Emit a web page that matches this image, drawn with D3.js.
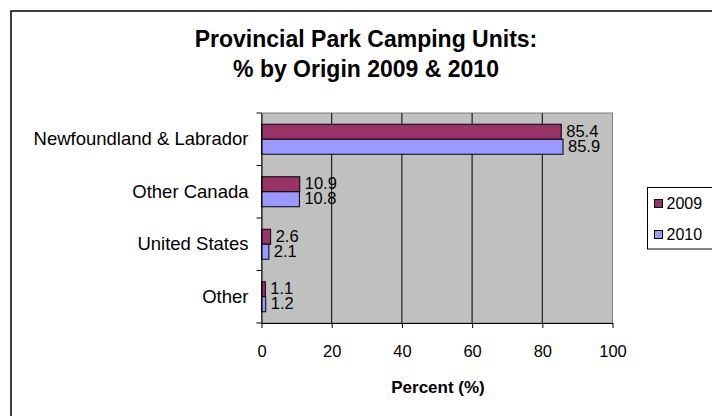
<!DOCTYPE html>
<html><head><meta charset="utf-8">
<script src="https://cdn.jsdelivr.net/npm/d3@7"></script>
<style>body{margin:0;background:#fff}svg{display:block;font-family:"Liberation Sans",Arial,sans-serif}</style>
</head><body>
<svg id="c" width="712" height="416"></svg>
<script>
const categories = ["Newfoundland & Labrador","Other Canada","United States","Other"];
const seriesNames = ["2009","2010"];
const values2009 = [85.4,10.9,2.6,1.1];
const values2010 = [85.9,10.8,2.1,1.2];
const xTicks = [0,20,40,60,80,100];
const colors = ["#993366","#9999FF"];

const svg = d3.select("#c");
const L=261.5, R=612.5, T=113, B=323;
const x = d3.scaleLinear().domain([0,100]).range([L,R]);
const y = d3.scaleBand().domain(categories).range([T,B]);
const inner = d3.scaleBand().domain(seriesNames).range([0,y.bandwidth()]).paddingOuter(0.75).paddingInner(0);

// outer border
svg.append("rect").attr("x",11).attr("y",11).attr("width",800).attr("height",500)
  .attr("fill","#fff").attr("stroke","#000").attr("stroke-width",1.5);

// title
svg.append("text").attr("x",366).attr("y",47).attr("text-anchor","middle")
  .attr("font-size",23).attr("font-weight","bold").text("Provincial Park Camping Units:");
svg.append("text").attr("x",366).attr("y",77).attr("text-anchor","middle")
  .attr("font-size",23).attr("font-weight","bold").text("% by Origin 2009 & 2010");

// plot area
svg.append("rect").attr("x",L).attr("y",T).attr("width",R-L).attr("height",B-T)
  .attr("fill","#C0C0C0").attr("stroke","#808080").attr("stroke-width",1);

// gridlines
svg.append("g").selectAll("line").data(xTicks.filter(d=>d>0 && d<100)).join("line")
  .attr("x1",d=>x(d)).attr("x2",d=>x(d)).attr("y1",T).attr("y2",B)
  .attr("stroke","#000").attr("stroke-width",1);

// bars
const data = categories.map((c,i)=>({c, vals:[values2009[i],values2010[i]]}));
const groups = svg.append("g").selectAll("g").data(data).join("g")
  .attr("transform",d=>`translate(0,${y(d.c)})`);
groups.selectAll("rect").data(d=>d.vals.map((v,j)=>({v,s:seriesNames[j],j}))).join("rect")
  .attr("x",x(0)).attr("y",d=>inner(d.s)).attr("width",d=>x(d.v)-x(0)).attr("height",inner.bandwidth())
  .attr("fill",d=>colors[d.j]).attr("stroke","#000").attr("stroke-width",1);
groups.selectAll("text").data(d=>d.vals.map((v,j)=>({v,s:seriesNames[j],j}))).join("text")
  .attr("x",d=>x(d.v)+5).attr("y",d=>inner(d.s)+inner.bandwidth()/2 - (d.j===0?1:1))
  .attr("dy","0.36em").attr("font-size",16.5).attr("fill","#000").text(d=>d.v.toFixed(1));

// y axis
const yAxis = svg.append("g").attr("transform",`translate(${L},0)`)
  .call(d3.axisLeft(y).tickSize(0).tickPadding(13));
yAxis.select(".domain").attr("stroke","#000");
yAxis.selectAll("text").attr("font-size",18.5).attr("font-family","Liberation Sans, Arial, sans-serif").attr("fill","#000");
svg.append("g").selectAll("line").data(d3.range(categories.length+1)).join("line")
  .attr("x1",L-5).attr("x2",L).attr("y1",i=>T+i*y.step()).attr("y2",i=>T+i*y.step())
  .attr("stroke","#000");

// x axis
const xAxis = svg.append("g").attr("transform",`translate(0,${B})`)
  .call(d3.axisBottom(x).tickValues(xTicks).tickSize(5).tickPadding(17).tickSizeOuter(0));
xAxis.select(".domain").attr("stroke","#000");
xAxis.selectAll("line").attr("stroke","#000");
xAxis.selectAll("text").attr("font-size",16.5).attr("font-family","Liberation Sans, Arial, sans-serif").attr("fill","#000");

svg.append("text").attr("x",438).attr("y",393).attr("text-anchor","middle")
  .attr("font-size",17).attr("font-weight","bold").text("Percent (%)");

// legend
const lg = svg.append("g");
lg.append("rect").attr("x",647.5).attr("y",187.5).attr("width",80).attr("height",61.5)
  .attr("fill","#fff").attr("stroke","#000").attr("stroke-width",1);
const items = lg.selectAll("g").data(seriesNames).join("g")
  .attr("transform",(d,i)=>`translate(654,${203.5+i*31})`);
items.append("rect").attr("x",0.5).attr("y",-4).attr("width",8).attr("height",8)
  .attr("fill",(d,i)=>colors[i]).attr("stroke","#000");
items.append("text").attr("x",12.5).attr("y",0).attr("dy","0.36em").attr("font-size",16).text(d=>d);
</script>
</body></html>
